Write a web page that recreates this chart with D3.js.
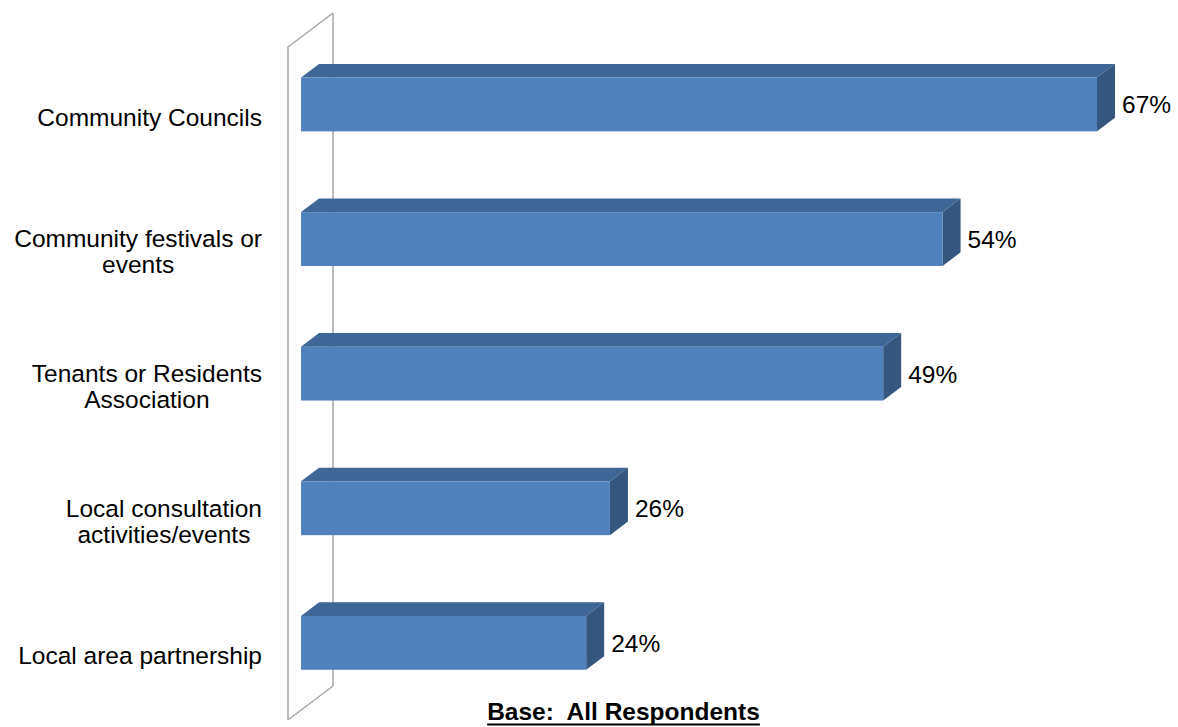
<!DOCTYPE html>
<html>
<head>
<meta charset="utf-8">
<script src="https://cdn.jsdelivr.net/npm/d3@7"></script>
<style>
  html, body { margin: 0; padding: 0; background: #fff; }
  svg { display: block; }
  text { font-family: "Liberation Sans", Arial, sans-serif; fill: #000; }
</style>
</head>
<body>
<svg id="chart" width="1178" height="727"></svg>
<script>
// Share of respondents aware of each type of local activity (%)
const categories = [
  "Community Councils",
  "Community festivals or events",
  "Tenants or Residents Association",
  "Local consultation activities/events",
  "Local area partnership"
];
const labelLines = [
  ["Community Councils"],
  ["Community festivals or", "events"],
  ["Tenants or Residents", "Association"],
  ["Local consultation", "activities/events"],
  ["Local area partnership"]
];
const values = [67, 54, 49, 26, 24];
const baseNote = "Base:  All Respondents";

const svg = d3.select("#chart");
const fontSize = 24.5;

// Front plane of the side wall
const plot = { left: 288, top: 47, bottom: 720 };
// Perspective depth vector of the chart (x, y)
const depth = { x: 45, y: -34 };
// Bars sit in the middle slice of the depth
const barFront = 0.29, barDepth = 0.40;
const bOff = { x: depth.x * barFront, y: depth.y * barFront };
const bD = { x: depth.x * barDepth, y: depth.y * barDepth };

const x = d3.scaleLinear().domain([0, 70]).range([plot.left, plot.left + 70 * 11.88]);
const y = d3.scaleBand().domain(categories).range([plot.top, plot.bottom])
  .paddingInner(0.6).paddingOuter(0.3);

// Side wall (vertical axis plane)
const wall = svg.append("g")
  .attr("fill", "none").attr("stroke", "#a6a6a6").attr("stroke-width", 1.5);
wall.append("path").attr("d", d3.line()([
  [plot.left + depth.x, plot.bottom + depth.y],
  [plot.left + depth.x, plot.top + depth.y]
]));
wall.append("path").attr("d", d3.line()([
  [plot.left, plot.bottom],
  [plot.left, plot.top],
  [plot.left + depth.x, plot.top + depth.y]
]));
wall.append("path").attr("d", d3.line()([
  [plot.left, plot.bottom],
  [plot.left + depth.x, plot.bottom + depth.y]
]));

// 3D bars
const colors = { front: "#4f81bd", top: "#3e6696", side: "#35577f" };
const bars = svg.append("g").selectAll("g").data(categories).join("g");
bars.each(function(c, i) {
  const g = d3.select(this);
  const x0 = x(0) + bOff.x, x1 = x(values[i]) + bOff.x;
  const y0 = y(c) + bOff.y, y1 = y0 + y.bandwidth();
  const line = d3.line();
  g.append("path").attr("fill", colors.top)
    .attr("d", line([[x0, y0], [x1, y0], [x1 + bD.x, y0 + bD.y], [x0 + bD.x, y0 + bD.y]]) + "Z");
  g.append("path").attr("fill", colors.side)
    .attr("d", line([[x1, y0], [x1 + bD.x, y0 + bD.y], [x1 + bD.x, y1 + bD.y], [x1, y1]]) + "Z");
  g.append("rect").attr("fill", colors.front)
    .attr("x", x0).attr("y", y0).attr("width", x1 - x0).attr("height", y1 - y0);
  // value label
  g.append("text")
    .attr("x", x1 + 25)
    .attr("y", (y0 + y1) / 2 + 9)
    .attr("font-size", fontSize)
    .text(values[i] + "%");
});

// Category labels: lines centred within a right-aligned block
const labelRight = 262, lineH = 26;
const labels = svg.append("g").selectAll("g").data(categories).join("g");
labels.each(function(c, i) {
  const g = d3.select(this);
  const lines = labelLines[i];
  const cy = y(c) + y.bandwidth() / 2 + 11.5;
  const ts = lines.map((t, k) => g.append("text")
    .attr("font-size", fontSize)
    .attr("text-anchor", "middle")
    .attr("y", cy + (k - (lines.length - 1) / 2) * lineH)
    .text(t));
  const maxW = d3.max(ts, t => t.node().getComputedTextLength());
  ts.forEach(t => t.attr("x", labelRight - maxW / 2));
});

// Base note, bold and underlined
const noteX = 623.5;
const note = svg.append("text")
  .attr("x", noteX).attr("y", 720)
  .attr("text-anchor", "middle")
  .attr("font-size", fontSize).attr("font-weight", "bold")
  .style("white-space", "pre")
  .text(baseNote);
const nw = note.node().getComputedTextLength();
svg.append("line")
  .attr("x1", noteX - nw / 2).attr("x2", noteX + nw / 2)
  .attr("y1", 724.5).attr("y2", 724.5)
  .attr("stroke", "#000").attr("stroke-width", 2);
</script>
</body>
</html>
